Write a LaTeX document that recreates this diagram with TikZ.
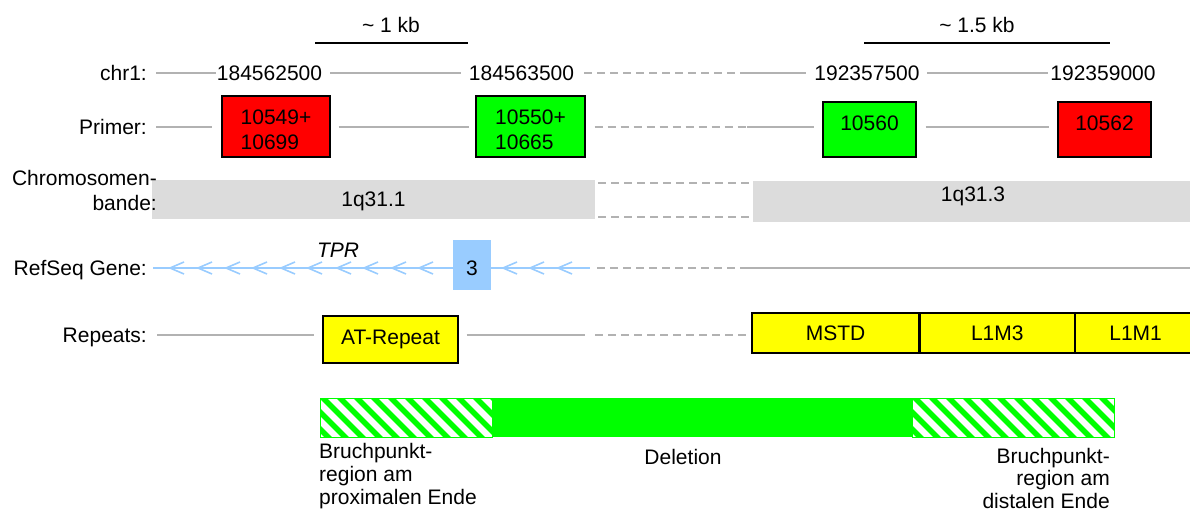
\documentclass[tikz,border=0pt]{standalone}
\usepackage{fontspec}
\setmainfont{Liberation Sans}
\definecolor{linegray}{RGB}{178,178,178}
\definecolor{bandgray}{RGB}{220,220,220}
\definecolor{refblue}{RGB}{153,204,255}
\definecolor{primred}{RGB}{255,0,0}
\definecolor{primgreen}{RGB}{0,255,0}
\definecolor{repyellow}{RGB}{255,255,0}
\definecolor{delgreen}{RGB}{0,255,0}
\begin{document}
\begin{tikzpicture}[x=1pt,y=-1pt,
  txt/.style={font=\fontsize{21}{23}\selectfont, inner sep=0pt},
  rowlabel/.style={txt, anchor=east, text depth=0pt},
  track/.style={draw=linegray, line width=1.8pt},
  trackdash/.style={track, dash pattern=on 8pt off 5pt},
  scalebar/.style={draw=black, line width=1.5pt},
  primerbox/.style={txt, draw=black, line width=1.3pt},
  band/.style={txt, fill=bandgray},
  repbox/.style={txt, draw=black, line width=1.3pt, fill=repyellow},
  geneline/.style={draw=refblue, line width=1.8pt},
  hatched/.style={draw=delgreen, line width=1pt, inner sep=0pt,
    path picture={
      \foreach \k in {-4,...,14}
        \draw[delgreen, line width=5.5pt]
          ([xshift=\k*17pt, yshift=20pt]path picture bounding box.north west)
          -- ++(80pt,-80pt);
    }}
]
\useasboundingbox (0,0) rectangle (1190,511);

% scale bars
\node[txt] (kb1) at (391,25) {\textasciitilde\ 1 kb};
\draw[scalebar] (315,43) -- (468,43);
\node[txt] (kb2) at (977,25) {\textasciitilde\ 1.5 kb};
\draw[scalebar] (864,43) -- (1110,43);

% chromosome coordinates
\node[rowlabel] (lchr) at (147,73) {chr1:};
\node[txt] (n1) at (269.5,73) {184562500};
\node[txt] (n2) at (521.5,73) {184563500};
\node[txt] (n3) at (867,73) {192357500};
\node[txt] (n4) at (1103,73) {192359000};
\coordinate (chrbreak) at (747,73);
\draw[track, shorten <=9pt, shorten >=1pt] (lchr.east) -- (n1.west);
\draw[track, shorten <=8pt, shorten >=8pt] (n1.east) -- (n2.west);
\draw[trackdash, shorten <=10pt] (n2.east) -- (chrbreak);
\draw[track, shorten >=8pt] (chrbreak) -- (n3.west);
\draw[track, shorten <=7pt, shorten >=2pt] (n3.east) -- (n4.west);

% primers
\node[rowlabel] (lprim) at (147,127) {Primer:};
\node[primerbox, fill=primred, minimum width=108pt, minimum height=61pt,
      align=left, font=\fontsize{21}{25}\selectfont] (p1) at (276,126.5)
      {\rule{0pt}{21pt}10549+\\10699};
\node[primerbox, fill=primgreen, minimum width=109pt, minimum height=61pt,
      align=left, font=\fontsize{21}{25}\selectfont] (p2) at (530.5,126.5)
      {\rule{0pt}{21pt}10550+\\10665};
\node[primerbox, fill=primgreen, minimum width=93pt, minimum height=55pt,
      text depth=13pt] (p3) at (869.5,129.5) {10560};
\node[primerbox, fill=primred, minimum width=93pt, minimum height=55pt,
      text depth=13pt] (p4) at (1104.5,129.5) {10562};
\coordinate (primbreak) at (747,127);
\draw[track, shorten <=9pt, shorten >=9pt] (lprim.east) -- (lprim.east -| p1.west);
\draw[track, shorten <=8pt, shorten >=6pt] (p1.east |- primbreak) -- (p2.west |- primbreak);
\draw[trackdash, shorten <=9pt] (p2.east |- primbreak) -- (primbreak);
\draw[track, shorten >=8pt] (primbreak) -- (p3.west |- primbreak);
\draw[track, shorten <=9pt, shorten >=8pt] (p3.east |- primbreak) -- (p4.west |- primbreak);

% chromosome bands
\node[band, minimum width=443pt, minimum height=39pt, text depth=0pt] (b1) at (373.5,199.5) {1q31.1};
\node[band, minimum width=440pt, minimum height=41pt, text depth=15pt] (b2) at (973,201.5) {1q31.3};
\draw[trackdash, shorten <=3pt] ([yshift=-3pt]b1.north east) -- ([yshift=-3pt]b1.north east -| b2.west);
\draw[trackdash, shorten <=3pt] ([yshift=2pt]b1.south east) -- ([yshift=2pt]b1.south east -| b2.west);
\node[txt, align=right, anchor=east, font=\fontsize{21}{25}\selectfont] (lband) at (157,190.5)
      {Chromosomen-\\bande:};

% RefSeq gene track
\node[rowlabel] (lref) at (147,268) {RefSeq Gene:};
\node[txt, fill=refblue, minimum width=38pt, minimum height=50pt, text height=21pt] (exon) at (472,265) {3};
\node[txt, font=\fontsize{21}{23}\selectfont\itshape] (tpr) at (338,250) {TPR};
\coordinate (geneend) at (590,268);
\coordinate (genebreak) at (747,268);
\coordinate (trackend) at (1190,268);
\draw[geneline, shorten <=6pt] (lref.east) -- (lref.east -| exon.west);
\draw[geneline] (exon.east |- geneend) -- (geneend);
\foreach \x in {170,198,226,253,281,308,337,364,392,419,503,530,558}
  \draw[geneline, line width=1.6pt] (\x+14,262) -- (\x,268) -- (\x+14,274);
\draw[trackdash, shorten <=7pt] (geneend) -- (genebreak);
\draw[track] (genebreak) -- (trackend);

% repeats
\node[rowlabel] (lrep) at (147,335) {Repeats:};
\node[repbox, minimum width=135pt, minimum height=47pt] (atrep) at (390.5,339.5) {AT-Repeat};
\node[repbox, minimum width=167pt, minimum height=40pt] (mstd) at (835.5,333) {MSTD};
\node[repbox, minimum width=154pt, minimum height=40pt, anchor=west] (l1m3) at (mstd.east) {L1M3};
\node[repbox, minimum width=120pt, minimum height=40pt, anchor=west] (l1m1) at (l1m3.east) {L1M1};
\coordinate (repend) at (585,335);
\coordinate (repbreak) at (747,335);
\draw[track, shorten <=10pt, shorten >=8pt] (lrep.east) -- (lrep.east -| atrep.west);
\draw[track, shorten <=8pt] (atrep.east |- repend) -- (repend);
\draw[trackdash, shorten <=10pt] (repend) -- (repbreak);

% deletion bar
\node[hatched, minimum width=172pt, minimum height=39pt, anchor=north west] (bpprox) at (320,398) {};
\node[fill=delgreen, inner sep=0pt, minimum width=420pt, minimum height=39pt, anchor=north west] (del) at (492,398) {};
\node[hatched, minimum width=202pt, minimum height=39pt, anchor=north west] (bpdist) at (912,398) {};
\node[txt, align=left, anchor=north west] (lprox) at (319,443) {Bruchpunkt-\\region am\\proximalen Ende};
\node[txt] (ldel) at (683,457) {Deletion};
\node[txt, align=right, anchor=north east, font=\fontsize{21}{22.5}\selectfont] (ldist) at (1110,448)
      {Bruchpunkt-\\region am\\distalen Ende};
\end{tikzpicture}
\end{document}
